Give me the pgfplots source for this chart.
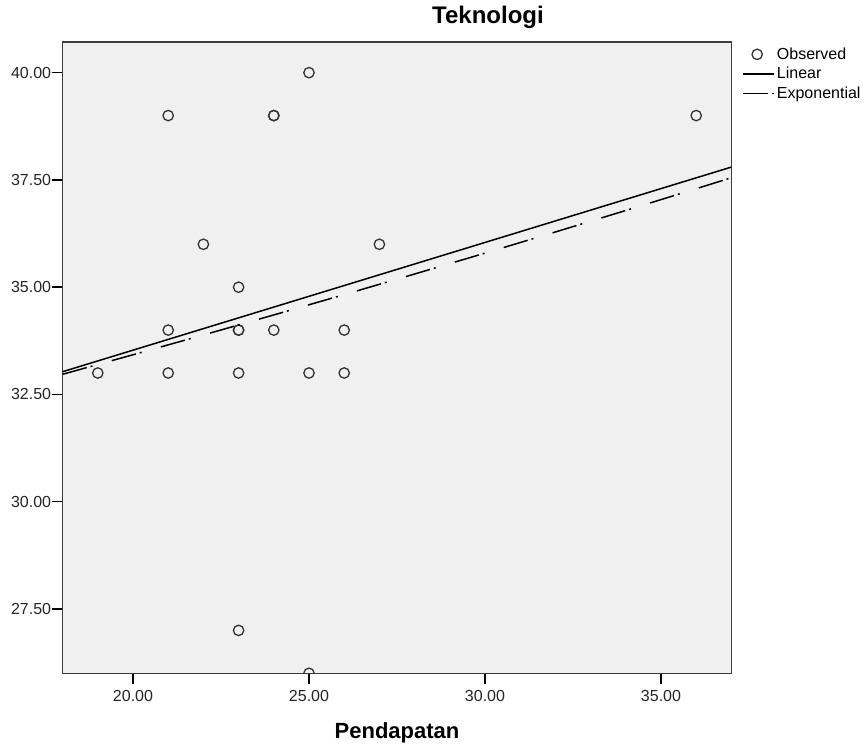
\documentclass[border=0pt]{standalone}
\usepackage{fontspec}
\setmainfont{Liberation Sans}
\usepackage{pgfplots}
\pgfplotsset{compat=1.18}
\definecolor{bg}{RGB}{240,240,240}
\definecolor{ax}{RGB}{60,60,60}
\pgfplotsset{
  linelegend/.style={legend image code/.code={\draw[##1] (0pt,0pt) -- (31pt,0pt);}},
  obslegend/.style={legend image code/.code={\path (0pt,0pt) (31pt,0pt); \draw[##1,draw=none] plot coordinates {(14pt,0pt)};}},
}
\begin{document}
\begin{tikzpicture}
\begin{axis}[
  scale only axis, width=668.8pt, height=631.5pt,
  xmin=18, xmax=37, ymin=26, ymax=40.72,
  axis background/.style={fill=bg},
  axis line style={line width=1.5pt, draw=ax},
  tick pos=left, tick align=outside, major tick length=11pt,
  tick style={line width=1.4pt, black},
  xtick={20,25,30,35}, ytick={27.5,30,32.5,35,37.5,40},
  x tick label style={/pgf/number format/.cd, fixed, fixed zerofill, precision=2, assume math mode=true, /tikz/.cd, yshift=-2pt},
  y tick label style={/pgf/number format/.cd, fixed, fixed zerofill, precision=2, assume math mode=true, /tikz/.cd, xshift=3pt},
  ticklabel style={font=\fontsize{16}{19}\selectfont, color=black!85},
  title={Teknologi},
  title style={at={(axis description cs:0.636,1)}, anchor=base, yshift=12.4pt, font=\bfseries\fontsize{24}{28}\selectfont},
  xlabel={Pendapatan},
  xlabel style={at={(axis description cs:0.5,0)}, anchor=base, yshift=-64.7pt, font=\bfseries\fontsize{22}{26}\selectfont},
  clip marker paths=true,
  legend cell align=left,
  linelegend,
  legend style={at={(axis description cs:1,1)}, anchor=north west, xshift=11pt, yshift=-4pt,
    draw=none, fill=none, font=\fontsize{16}{19}\selectfont, inner sep=0pt, outer sep=0pt,
    row sep=2.5pt, /tikz/every odd column/.style={column sep=0pt}},
]
\addplot[only marks, mark=o, mark size=5.2pt, mark options={line width=1.3pt, draw=black!80}, obslegend]
coordinates {
 (19,33) (21,39) (21,34) (21,33) (22,36)
 (23,35) (23,34) (23,34) (23,33) (23,27)
 (24,39) (24,39) (24,34)
 (25,40) (25,33) (25,26)
 (26,34) (26,33) (27,36) (36,39)
};
\addlegendentry{Observed}
\addplot[black, line width=1.5pt, no marks] coordinates {(18,33.03) (37,37.80)};
\addlegendentry{Linear}
\addplot[black, line width=1.5pt, no marks, dash pattern=on 25pt off 4pt on 2pt off 20pt] coordinates {
 (18,32.970) (20,33.425) (22,33.886) (24,34.353) (26,34.827) (28,35.307)
 (30,35.794) (32,36.287) (34,36.788) (36,37.295) (37,37.552)
};
\addlegendentry{Exponential}
\end{axis}
\pgfresetboundingbox
\path (current axis.south west) ++(-62.6pt,-72.7pt) rectangle ++(866pt,746pt);
\end{tikzpicture}
\end{document}
